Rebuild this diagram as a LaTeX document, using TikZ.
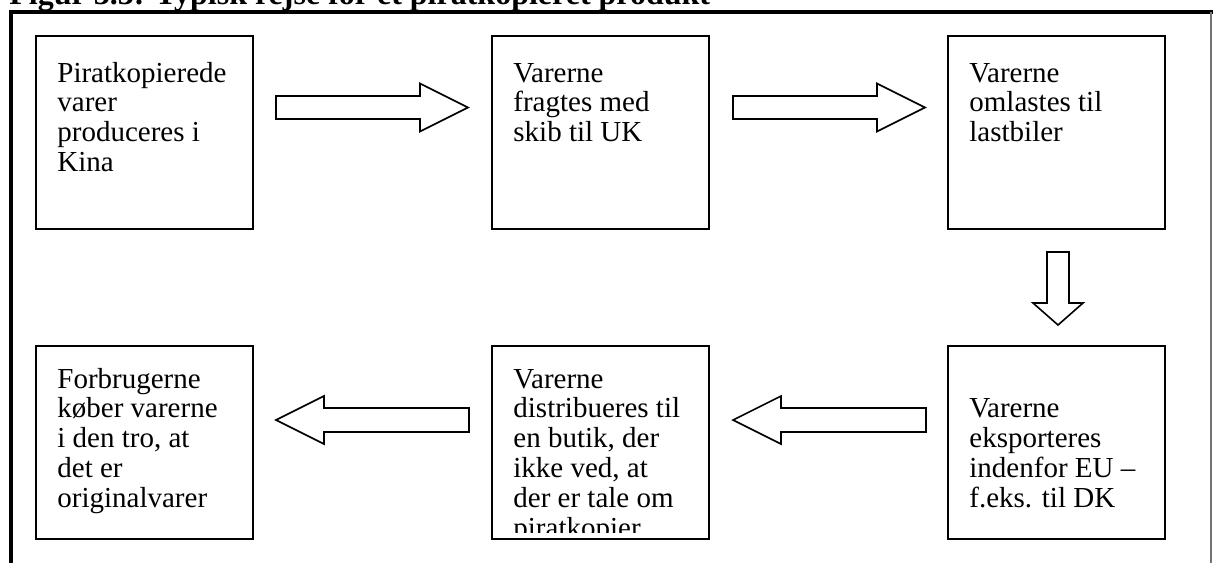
\documentclass[tikz,border=0pt]{standalone}
\usepackage{fontspec}
\setmainfont{Liberation Serif}
\begin{document}
\begin{tikzpicture}[x=0.5pt,y=-0.5pt,
  boxst/.style={draw, line width=0.8pt, anchor=north west, inner sep=0, minimum width=108.5pt, minimum height=96.5pt},
  txtst/.style={anchor=base west, inner sep=0, font=\fontsize{14.5}{14.9}\selectfont},
  arrowst/.style={draw, line width=0.8pt, line join=miter, fill=white},
  pics/barrow/.style n args={4}{code={\draw[arrowst] (0,-#3) -- ({#1-#2},-#3) -- ({#1-#2},-#4) -- (#1,0) -- ({#1-#2},#4) -- ({#1-#2},#3) -- (0,#3) -- cycle;}}
]
\useasboundingbox (0,0) rectangle (1213,563);
\clip (0,0) rectangle (1213,563);
% title (cut off at the top)
\node[anchor=base west, inner sep=0, font=\bfseries\fontsize{16}{16}\selectfont] (title) at (9,4) {Figur 3.3: Typisk rejse for et piratkopieret produkt};
% frame
\draw[line width=2pt] (11,563) -- (11,11.5) -- (1213,11.5);
\draw[black!55, line width=0.6pt] (1211,12) -- (1211,563);
% boxes
\node[boxst] (b1) at (35,35) {};
\node[boxst] (b2) at (491,35) {};
\node[boxst] (b3) at (947,35) {};
\node[boxst] (b4) at (947,345) {};
\node[boxst] (b5) at (491,345) {};
\node[boxst] (b6) at (35,345) {};
% texts
\node[txtst] (t1) at (57,82) {\parbox[t]{100pt}{\raggedright Piratkopierede\\varer\\produceres i\\Kina}};
\node[txtst] (t2) at (513,82) {\parbox[t]{100pt}{\raggedright Varerne\\fragtes med\\skib til UK}};
\node[txtst] (t3) at (969,82) {\parbox[t]{100pt}{\raggedright Varerne\\omlastes til\\lastbiler}};
\node[txtst] (t4) at (969,417.8) {\parbox[t]{100pt}{\raggedright Varerne\\eksporteres\\indenfor EU –\\f.eks. til DK}};
\begin{scope}
  \clip (491,345) rectangle (708,532);
  \node[txtst] (t5) at (513,388) {\parbox[t]{100pt}{\raggedright Varerne\\distribueres til\\en butik, der\\ikke ved, at\\der er tale om\\piratkopier}};
\end{scope}
\node[txtst] (t6) at (57,388) {\parbox[t]{100pt}{\raggedright Forbrugerne\\køber varerne\\i den tro, at\\det er\\originalvarer}};
% block arrows
\pic (a1) at (276,107.5) {barrow={192}{48}{11.5}{24}};
\pic (a2) at (733,107.5) {barrow={192}{48}{11.5}{24}};
\pic[rotate=-90] (a3) at (1058,252) {barrow={73}{22}{11}{25}};
\pic[rotate=180] (a4) at (926,420) {barrow={193}{48}{12}{24}};
\pic[rotate=180] (a5) at (469,420) {barrow={193}{48}{12}{24}};
\end{tikzpicture}
\end{document}
